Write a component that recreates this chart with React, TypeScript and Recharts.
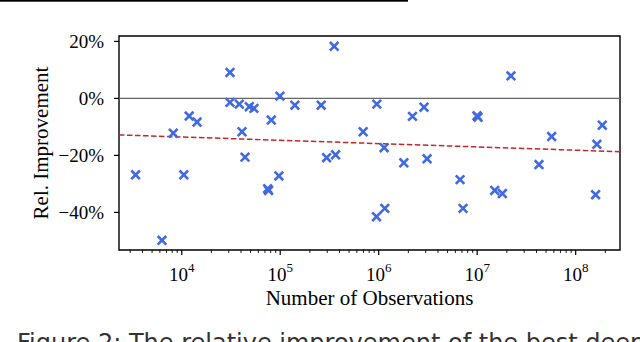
import React from 'react';
import {
  ComposedChart,
  Scatter,
  XAxis,
  YAxis,
  ReferenceLine,
  ReferenceArea,
} from 'recharts';

// Number of observations per dataset (x, log scale)
const OBSERVATIONS = [
  3400, 6300, 8200, 10500, 11900, 14300, 30900, 30900, 38400, 40900, 43900,
  48500, 54100, 81100, 74500, 76200, 97000, 99300, 140900, 260600, 353200,
  295800, 364800, 695000, 957000, 1135000, 950000, 1153000, 1799000, 2203000,
  2884000, 3097000, 6699000, 7178000, 9954000, 10190000, 15070000, 18030000,
  22030000, 42360000, 57020000, 159200000, 164100000, 186200000,
];

// Relative improvement in percent (y)
const REL_IMPROVEMENT = [
  -26.8, -49.8, -12.2, -26.8, -6.2, -8.3, 9.1, -1.4, -2.0, -11.7, -20.6, -2.9,
  -3.5, -7.6, -31.7, -32.3, -27.2, 0.8, -2.4, -2.4, 18.3, -20.8, -19.8, -11.7,
  -2.0, -17.3, -41.5, -38.6, -22.6, -6.3, -3.1, -21.2, -28.5, -38.6, -6.1, -6.6,
  -32.3, -33.4, 7.9, -23.2, -13.4, -33.8, -16.1, -9.4,
];

// Fitted trend (red dashed), endpoints at the axis limits
const TREND_OBSERVATIONS = [2307, 281800000];
const TREND_VALUES = [-12.8, -18.7];

const X_DOMAIN = [2307, 281800000];
const Y_DOMAIN = [-53.2, 21.9];
const Y_TICKS = [-40, -20, 0, 20];
const X_LABEL = 'Number of Observations';
const Y_LABEL = 'Rel. Improvement';
const CAPTION = 'Figure 2: The relative improvement of the best deep';

const SERIF = '"Liberation Serif", "Times New Roman", serif';
const BLUE = '#4169e1';
const RED = '#c0282b';

// major ticks at decades, minor ticks at 2..9 x 10^d
const X_TICKS: number[] = [];
for (let d = 3; d <= 8; d++) {
  for (let k = 1; k <= 9; k++) {
    const v = k * Math.pow(10, d);
    if (v >= X_DOMAIN[0] && v <= X_DOMAIN[1]) X_TICKS.push(v);
  }
}

const points = OBSERVATIONS.map((n, i) => ({ n, v: REL_IMPROVEMENT[i] }));
const trend = TREND_OBSERVATIONS.map((n, i) => ({ n, v: TREND_VALUES[i] }));

const Cross = (props: any) => {
  const { cx, cy } = props;
  if (cx == null || cy == null) return <g />;
  const s = 4.3;
  return (
    <g stroke={BLUE} strokeWidth={2.6} strokeLinecap="butt">
      <line x1={cx - s} y1={cy - s} x2={cx + s} y2={cy + s} />
      <line x1={cx - s} y1={cy + s} x2={cx + s} y2={cy - s} />
    </g>
  );
};

const NoDot = () => <g />;

const XTick = (props: any) => {
  const { x, y, payload } = props;
  const exp = Math.log10(payload.value);
  const major = Math.abs(exp - Math.round(exp)) < 1e-6;
  return (
    <g>
      <line
        x1={x}
        x2={x}
        y1={y}
        y2={y + (major ? 5 : 3)}
        stroke="#000"
        strokeWidth={major ? 1.2 : 0.9}
      />
      {major && (
        <text x={x} y={y + 31} textAnchor="middle" fontFamily={SERIF} fontSize={19} fill="#000">
          <tspan>10</tspan>
          <tspan dy={-9} fontSize={13}>
            {Math.round(exp)}
          </tspan>
        </text>
      )}
    </g>
  );
};

const fmtPct = (v: number) => `${v < 0 ? '\u2212' : ''}${Math.abs(v)}%`;

const YTick = (props: any) => {
  const { x, y, payload } = props;
  return (
    <text
      x={x}
      y={y}
      textAnchor="end"
      dominantBaseline="central"
      fontFamily={SERIF}
      fontSize={19}
      fill="#000"
    >
      {fmtPct(payload.value)}
    </text>
  );
};

const XLabel = (props: any) => {
  const vb = props.viewBox || { x: 119, y: 250, width: 501, height: 92 };
  return (
    <text
      x={vb.x + vb.width / 2}
      y={vb.y + 55}
      textAnchor="middle"
      fontFamily={SERIF}
      fontSize={21}
      fill="#000"
    >
      {X_LABEL}
    </text>
  );
};

const YLabel = (props: any) => {
  const vb = props.viewBox || { x: 0, y: 36, width: 119, height: 214 };
  const cx = vb.x + 41;
  const cy = vb.y + vb.height / 2;
  return (
    <text
      x={cx}
      y={cy}
      transform={`rotate(-90, ${cx}, ${cy})`}
      textAnchor="middle"
      dominantBaseline="central"
      fontFamily={SERIF}
      fontSize={21}
      fill="#000"
    >
      {Y_LABEL}
    </text>
  );
};

export default function App() {
  return (
    <div style={{ position: 'absolute', left: 0, top: 0, width: 640, height: 342, background: '#fff' }}>
      <ComposedChart
        width={640}
        height={342}
        data={points}
        margin={{ top: 36, right: 20, bottom: 0, left: 0 }}
      >
        <XAxis
          dataKey="n"
          type="number"
          scale="log"
          domain={X_DOMAIN}
          allowDataOverflow
          ticks={X_TICKS}
          interval={0}
          axisLine={false}
          tickLine={false}
          tickSize={0}
          tickMargin={0}
          tick={<XTick />}
          height={92}
          label={{ content: <XLabel /> }}
        />
        <YAxis
          dataKey="v"
          type="number"
          domain={Y_DOMAIN}
          allowDataOverflow
          ticks={Y_TICKS}
          interval={0}
          axisLine={false}
          tickLine={{ stroke: '#000', strokeWidth: 1.2 }}
          tickSize={5}
          tickMargin={10}
          tick={<YTick />}
          width={119}
          label={{ content: <YLabel /> }}
        />
        <ReferenceLine y={0} stroke="#666" strokeWidth={1.2} />
        <Scatter
          data={trend}
          dataKey="v"
          line={{ stroke: RED, strokeWidth: 1.5, strokeDasharray: '5.5 2.5' }}
          shape={<NoDot />}
          isAnimationActive={false}
        />
        <Scatter data={points} dataKey="v" shape={<Cross />} isAnimationActive={false} />
        <ReferenceArea
          x1={X_DOMAIN[0]}
          x2={X_DOMAIN[1]}
          y1={Y_DOMAIN[0]}
          y2={Y_DOMAIN[1]}
          fill="none"
          stroke="#000"
          strokeWidth={1.4}
          ifOverflow="visible"
        />
      </ComposedChart>
      <svg
        width={640}
        height={342}
        style={{ position: 'absolute', left: 0, top: 0, pointerEvents: 'none' }}
      >
        <rect x={0} y={0} width={408} height={1.7} fill="#000" />
        <text x={17} y={351} fontFamily='"DejaVu Sans", sans-serif' fontSize={24} fill="#333">
          {CAPTION}
        </text>
      </svg>
    </div>
  );
}
